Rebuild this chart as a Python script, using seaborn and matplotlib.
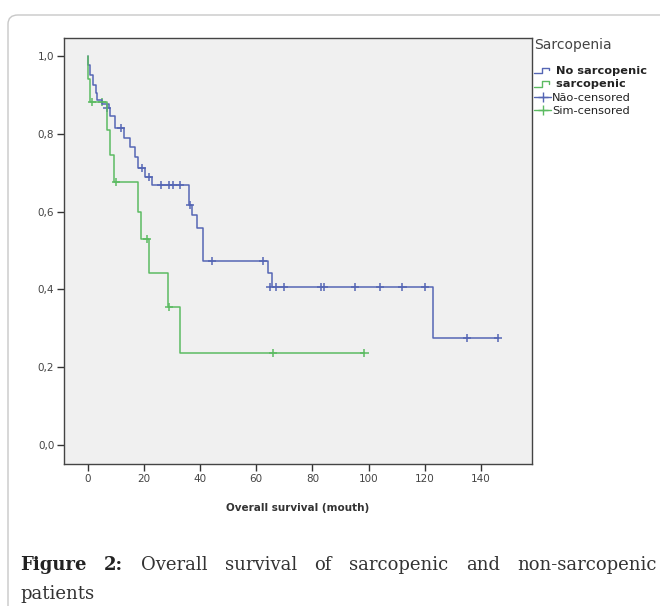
import numpy as np
import pandas as pd
import matplotlib
matplotlib.use("Agg")
import matplotlib.pyplot as plt
import seaborn as sns
from matplotlib.lines import Line2D
from matplotlib.patches import FancyBboxPatch
from matplotlib.legend_handler import HandlerBase

# Kaplan-Meier step values
no_sarc_time = [0, 0, 1, 2, 3, 3.5, 5, 7.5, 8, 9.7, 13, 15, 17, 18, 20.5, 23, 36, 37, 39, 41, 64, 65.5, 123, 146]
no_sarc_surv = [1.0, 0.976, 0.95, 0.925, 0.905, 0.887, 0.877, 0.866, 0.845, 0.815, 0.79, 0.765, 0.74, 0.712, 0.689, 0.668, 0.617, 0.59, 0.558, 0.473, 0.442, 0.406, 0.275, 0.275]
sarc_time = [0, 0, 1, 7, 8, 9.5, 18, 19, 22, 28.5, 33, 98.5]
sarc_surv = [1.0, 0.941, 0.882, 0.81, 0.745, 0.676, 0.60, 0.53, 0.442, 0.355, 0.236, 0.236]

# censored observations
no_sarc_cens_t = [6.9, 11.8, 19.3, 21.8, 26, 29, 30.5, 33, 36.3, 44.3, 62.4, 65, 67, 70, 83, 84, 95, 104, 112, 120, 135, 146]
no_sarc_cens_s = [0.866, 0.815, 0.712, 0.689, 0.668, 0.668, 0.668, 0.668, 0.617, 0.473, 0.473, 0.406, 0.406, 0.406, 0.406, 0.406, 0.406, 0.406, 0.406, 0.406, 0.275, 0.275]
sarc_cens_t = [1.5, 5.0, 10, 21, 29, 66, 98.5]
sarc_cens_s = [0.882, 0.882, 0.676, 0.53, 0.355, 0.236, 0.236]

x_ticks = [0, 20, 40, 60, 80, 100, 120, 140]
y_ticks = [0.0, 0.2, 0.4, 0.6, 0.8, 1.0]

blue = "#5566b4"
green = "#5cbb62"

curves = pd.concat([
    pd.DataFrame({"time": no_sarc_time, "surv": no_sarc_surv, "group": "No sarcopenic"}),
    pd.DataFrame({"time": sarc_time, "surv": sarc_surv, "group": "sarcopenic"}),
])
cens = pd.concat([
    pd.DataFrame({"time": no_sarc_cens_t, "surv": no_sarc_cens_s, "group": "No sarcopenic"}),
    pd.DataFrame({"time": sarc_cens_t, "surv": sarc_cens_s, "group": "sarcopenic"}),
])
pal = {"No sarcopenic": blue, "sarcopenic": green}


class StepHandler(HandlerBase):
    # little step glyph like the SPSS legend
    def create_artists(self, legend, orig, xd, yd, width, height, fontsize, trans):
        x0 = -xd
        y0 = -yd + height * 0.1
        y1 = -yd + height * 0.8
        xs = [x0, x0 + width * 0.45, x0 + width * 0.45, x0 + width * 0.85, x0 + width * 0.85]
        ys = [y0, y0, y1, y1, y0 + height * 0.35]
        ln = Line2D(xs, ys, color=orig.get_color(), lw=1.0, transform=trans)
        return [ln]


sns.set_theme(style="white")
plt.rcParams["font.family"] = ["DejaVu Sans"]

fig = plt.figure(figsize=(6.6, 6.06), dpi=100)
fig.patch.set_facecolor("white")

# card border
card = FancyBboxPatch((8 / 660, -0.2), 1.2, 1.2 - 15 / 606,
                      boxstyle="round,pad=0,rounding_size=0.015",
                      transform=fig.transFigure, facecolor="white",
                      edgecolor="#c8c8c8", linewidth=1.0, zorder=-5)
fig.patches.append(card)

ax = fig.add_axes([64 / 660, 1 - 464 / 606, 468 / 660, 426 / 606])
ax.set_facecolor("#f0f0f0")

sns.lineplot(data=curves, x="time", y="surv", hue="group", palette=pal,
             estimator=None, sort=False, drawstyle="steps-post",
             linewidth=1.1, legend=False, ax=ax)
sns.scatterplot(data=cens, x="time", y="surv", hue="group", palette=pal,
                marker="+", s=35, linewidth=1.1, legend=False, ax=ax)

ax.set_xlim(-8.4, 158.1)
ax.set_ylim(-0.049, 1.046)
ax.set_xticks(x_ticks)
ax.set_yticks(y_ticks)
ax.set_yticklabels([f"{v:.1f}".replace(".", ",") for v in y_ticks])
ax.tick_params(axis="both", direction="out", length=5, width=1, color="#333333",
               labelsize=7.5, labelcolor="#444444", pad=2, left=True, bottom=True)
for s in ax.spines.values():
    s.set_color("#444444")
    s.set_linewidth(1.0)
ax.set_xlabel("Overall survival (mouth)", fontsize=7.5, fontweight="bold",
              color="#333333", labelpad=14)
ax.set_ylabel("")

handles = [
    Line2D([], [], color=blue),
    Line2D([], [], color=green),
    Line2D([], [], color=blue, lw=1.0, marker="+", markersize=7),
    Line2D([], [], color=green, lw=1.0, marker="+", markersize=7),
]
labels = [" No sarcopenic", " sarcopenic", "Não-censored", "Sim-censored"]
leg = fig.legend(handles, labels, title="Sarcopenia", loc="upper left",
                 bbox_to_anchor=(534 / 660, 1 - 38 / 606), frameon=False,
                 fontsize=8.2, title_fontsize=10, handlelength=1.5,
                 handletextpad=0.1, labelspacing=0.3, borderaxespad=0,
                 borderpad=0, alignment="left",
                 handler_map={handles[0]: StepHandler(), handles[1]: StepHandler()})
leg.get_title().set_color("#444444")
leg._legend_box.sep = 10
for i, t in enumerate(leg.get_texts()):
    t.set_color("#222222")
    if i < 2:
        t.set_fontweight("bold")

# caption, justified like the source
fig.canvas.draw()
r = fig.canvas.get_renderer()
words = ["Figure", "2:", "Overall", "survival", "of", "sarcopenic", "and", "non-sarcopenic"]
x0, x1 = 20, 657
y_line1 = 1 - 570 / 606
objs = []
for i, w in enumerate(words):
    t = fig.text(0, y_line1, w, fontsize=13, family="DejaVu Serif",
                 fontweight="bold" if i < 2 else "normal",
                 color="#222222" if i < 2 else "#333333", va="baseline")
    objs.append(t)
widths = [o.get_window_extent(r).width for o in objs]
gap = (x1 - x0 - sum(widths)) / (len(words) - 1)
x = x0
for o, w in zip(objs, widths):
    o.set_x(x / 660)
    x += w + gap
fig.text(20 / 660, 1 - 599 / 606, "patients", fontsize=13,
         family="DejaVu Serif", color="#333333", va="baseline")

fig.savefig("out.png", dpi=100)
